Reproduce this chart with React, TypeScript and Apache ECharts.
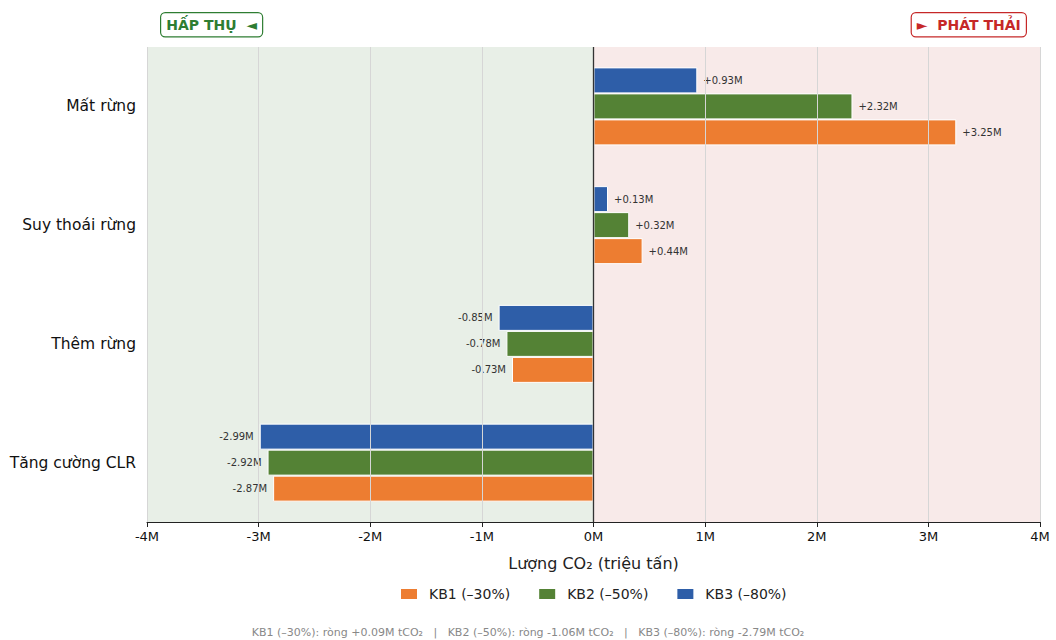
import React, { useEffect, useRef } from "react";
import * as echarts from "echarts";

const categories = ["Tăng cường CLR", "Thêm rừng", "Suy thoái rừng", "Mất rừng"];
const seriesNames = ["KB1 (–30%)", "KB2 (–50%)", "KB3 (–80%)"];
const kb1 = [-2.87, -0.73, 0.44, 3.25];
const kb2 = [-2.92, -0.78, 0.32, 2.32];
const kb3 = [-2.99, -0.85, 0.13, 0.93];
const colors = ["#ED7D31", "#548235", "#2E5EA8"];
const xTicks = [-4, -3, -2, -1, 0, 1, 2, 3, 4];
const footer =
  "KB1 (–30%): ròng +0.09M tCO₂   |   KB2 (–50%): ròng -1.06M tCO₂   |   KB3 (–80%): ròng -2.79M tCO₂";

const FONT = "DejaVu Sans";

function fmt(v: number) {
  return (v >= 0 ? "+" : "") + v.toFixed(2) + "M";
}

export default function App() {
  const ref = useRef<HTMLDivElement>(null);
  useEffect(() => {
    if (!ref.current) return;
    const chart = echarts.init(ref.current, undefined, { renderer: "svg" });
    const all = [kb1, kb2, kb3];
    // ECharts places the first series at the top in horizontal bars, so list KB3 first
    const order = [2, 1, 0];
    const series: any[] = order.map((i) => ({
      name: seriesNames[i],
      type: "bar",
      barWidth: 26,
      barGap: "0%",
      itemStyle: { color: colors[i], borderColor: "#ffffff", borderWidth: 1 },
      data: all[i].map((v) => ({
        value: v,
        label: {
          show: true,
          position: v >= 0 ? "right" : "left",
          distance: 6,
          formatter: () => fmt(v),
          fontSize: 10,
          color: "#333333",
          fontFamily: FONT,
        },
      })),
      z: 3,
    }));
    series.push({
      type: "bar",
      name: "__bg",
      data: [],
      silent: true,
      markArea: {
        silent: true,
        itemStyle: { opacity: 1 },
        data: [
          [{ xAxis: -4, itemStyle: { color: "#E8EFE7" } }, { xAxis: 0 }],
          [{ xAxis: 0, itemStyle: { color: "#F8EAE9" } }, { xAxis: 4 }],
        ],
      },
      markLine: {
        silent: true,
        symbol: "none",
        label: { show: false },
        lineStyle: { color: "#333333", width: 1.3, type: "solid" },
        data: [{ xAxis: 0 }],
      },
      z: 1,
    });
    chart.setOption({
      animation: false,
      textStyle: { fontFamily: FONT },
      grid: { left: 147, right: 16, top: 47, bottom: 118, containLabel: false },
      xAxis: {
        type: "value",
        min: -4,
        max: 4,
        interval: 1,
        name: "Lượng CO₂ (triệu tấn)",
        nameLocation: "middle",
        nameGap: 33,
        nameTextStyle: { fontSize: 16, color: "#222", fontFamily: FONT },
        axisLine: { show: true, lineStyle: { color: "#222", width: 1 } },
        axisTick: { show: true, length: 5, lineStyle: { color: "#222" } },
        axisLabel: {
          fontSize: 13,
          color: "#111",
          margin: 8,
          fontFamily: FONT,
          formatter: (v: number) => (xTicks.includes(v) ? v + "M" : ""),
        },
        splitLine: { show: true, lineStyle: { color: "#D6D6D6", width: 1 } },
        z: 5,
      },
      yAxis: {
        type: "category",
        data: categories,
        axisLine: { show: false },
        axisTick: { show: true, alignWithLabel: true, length: 5, lineStyle: { color: "#222" } },
        axisLabel: { fontSize: 15.5, color: "#111", margin: 11, fontFamily: FONT },
        splitLine: { show: false },
      },
      legend: {
        data: seriesNames,
        top: 582,
        left: 394,
        itemWidth: 18,
        itemHeight: 12,
        itemGap: 27,
        icon: "rect",
        textStyle: { fontSize: 14, color: "#222", fontFamily: FONT, padding: [0, 0, 0, 6] },
      },
      graphic: [
        {
          type: "text",
          left: 160,
          top: 12,
          style: {
            text: "HẤP THỤ  ◄",
            fill: "#2E7D32",
            font: "bold 14px DejaVu Sans",
            backgroundColor: "#ffffff",
            borderColor: "#2E7D32",
            borderWidth: 1.2,
            borderRadius: 4,
            padding: [5, 5, 4, 5],
          },
        },
        {
          type: "text",
          right: 29,
          top: 12,
          style: {
            text: "►  PHÁT THẢI",
            fill: "#C62828",
            font: "bold 14px DejaVu Sans",
            backgroundColor: "#ffffff",
            borderColor: "#C62828",
            borderWidth: 1.2,
            borderRadius: 4,
            padding: [5, 5, 4, 5],
          },
        },
        {
          type: "text",
          left: "center",
          top: 627,
          style: {
            text: footer,
            fill: "#888888",
            font: "11px DejaVu Sans",
          },
        },
      ],
      series,
    });
    return () => chart.dispose();
  }, []);
  return <div ref={ref} style={{ width: 1056, height: 640, position: "absolute", left: 0, top: 0 }} />;
}
